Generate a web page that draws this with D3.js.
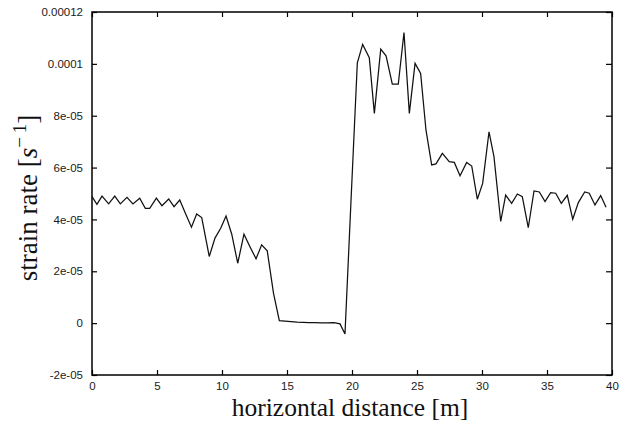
<!DOCTYPE html>
<html><head><meta charset="utf-8">
<script src="https://cdn.jsdelivr.net/npm/d3@7"></script>
<style>body{margin:0;background:#fff} svg{display:block}</style>
</head><body><svg id="c" width="629" height="421"></svg>
<script>
// horizontal distance [m]
const distance = [0,0.38,0.77,1.28,1.75,2.18,2.69,3.15,3.67,4.10,4.44,4.95,5.38,5.90,6.31,6.75,7.20,7.65,8.05,8.44,
 9.02,9.46,9.90,10.31,10.75,11.21,11.69,12.15,12.62,13.05,13.48,13.96,14.41,14.85,15.31,15.77,16.23,16.69,17.15,17.62,
 18.08,18.62,19.08,19.46,19.92,20.41,20.82,21.33,21.72,22.21,22.62,23.10,23.56,24.00,24.41,24.85,25.28,25.69,26.13,26.46,
 26.95,27.48,27.87,28.31,28.82,29.21,29.64,30.05,30.54,30.92,31.44,31.82,32.28,32.72,33.10,33.56,34.00,34.41,34.85,35.28,
 35.67,36.10,36.56,36.98,37.41,37.90,38.25,38.69,39.13,39.54];
// strain rate [1/s]
const strainRate = [4.88e-5,4.58e-5,4.90e-5,4.60e-5,4.90e-5,4.60e-5,4.85e-5,4.60e-5,4.82e-5,4.43e-5,4.43e-5,4.82e-5,4.53e-5,4.79e-5,4.49e-5,4.75e-5,4.22e-5,3.70e-5,4.21e-5,4.07e-5,
 2.57e-5,3.28e-5,3.66e-5,4.13e-5,3.43e-5,2.31e-5,3.43e-5,2.95e-5,2.48e-5,3.02e-5,2.79e-5,1.16e-5,0.10e-5,0.08e-5,0.06e-5,0.04e-5,0.03e-5,0.02e-5,0.02e-5,0.01e-5,
 0.01e-5,0.02e-5,-0.03e-5,-0.42e-5,4.68e-5,10.04e-5,10.75e-5,10.24e-5,8.09e-5,10.57e-5,10.31e-5,9.22e-5,9.22e-5,11.21e-5,8.09e-5,10.02e-5,9.63e-5,7.45e-5,6.10e-5,6.14e-5,
 6.55e-5,6.23e-5,6.20e-5,5.68e-5,6.20e-5,6.06e-5,4.78e-5,5.39e-5,7.38e-5,6.42e-5,3.92e-5,4.94e-5,4.62e-5,4.98e-5,4.88e-5,3.68e-5,5.10e-5,5.06e-5,4.69e-5,5.03e-5,
 5.01e-5,4.62e-5,4.93e-5,4.01e-5,4.65e-5,5.06e-5,5.01e-5,4.56e-5,4.92e-5,4.47e-5];
const xTicks = [0,5,10,15,20,25,30,35,40];
const xTickLabels = ["0","5","10","15","20","25","30","35","40"];
const yTicks = [-2e-5,0,2e-5,4e-5,6e-5,8e-5,1e-4,1.2e-4];
const yTickLabels = ["-2e-05","0","2e-05","4e-05","6e-05","8e-05","0.0001","0.00012"];

const svg = d3.select("#c");
const L = 92, R = 612, T = 12, B = 375;
const x = d3.scaleLinear().domain([0,40]).range([L,R]);
const y = d3.scaleLinear().domain([-2e-5,1.2e-4]).range([B,T]);
const tickFont = "'Liberation Sans', Arial, Helvetica, sans-serif";

function styleAxis(g){
  g.select(".domain").remove();
  g.selectAll(".tick line").attr("stroke","#000").attr("stroke-width",1.2);
  g.selectAll(".tick text").attr("fill","#1a1a1a").style("font-family",tickFont).style("font-size","11.5px");
}
svg.append("g").attr("transform",`translate(0,${B})`)
  .call(d3.axisBottom(x).tickValues(xTicks).tickFormat((d,i)=>xTickLabels[i]).tickSizeInner(-5).tickSizeOuter(0).tickPadding(7))
  .call(styleAxis);
svg.append("g").attr("transform",`translate(0,${T})`)
  .call(d3.axisTop(x).tickValues(xTicks).tickFormat("").tickSizeInner(-5).tickSizeOuter(0))
  .call(styleAxis);
svg.append("g").attr("transform",`translate(${L},0)`)
  .call(d3.axisLeft(y).tickValues(yTicks).tickFormat((d,i)=>yTickLabels[i]).tickSizeInner(-5).tickSizeOuter(0).tickPadding(9))
  .call(styleAxis);
svg.append("g").attr("transform",`translate(${R},0)`)
  .call(d3.axisRight(y).tickValues(yTicks).tickFormat("").tickSizeInner(-6).tickSizeOuter(0))
  .call(styleAxis);

svg.append("rect").attr("x",L).attr("y",T).attr("width",R-L).attr("height",B-T)
  .attr("fill","none").attr("stroke","#000").attr("stroke-width",1.5);

const pts = distance.map((d,i)=>[d,strainRate[i]]);
svg.append("path").datum(pts)
  .attr("d", d3.line().x(d=>x(d[0])).y(d=>y(d[1])))
  .attr("fill","none").attr("stroke","#111").attr("stroke-width",1.25).attr("stroke-linejoin","miter");

const serif = "'Liberation Serif', 'Times New Roman', Times, serif";
svg.append("text").attr("x",350).attr("y",416).attr("text-anchor","middle")
  .style("font-family",serif).style("font-size","25.5px").attr("fill","#111")
  .text("horizontal distance [m]");

const yt = svg.append("text").attr("transform","translate(37,198) rotate(-90)").attr("text-anchor","middle")
  .style("font-family",serif).style("font-size","27px").attr("fill","#111");
yt.append("tspan").text("strain rate [");
yt.append("tspan").style("font-style","italic").text("s");
yt.append("tspan").attr("dy",-11).style("font-size","19px").text("\u2212\u20091");
yt.append("tspan").attr("dy",11).text("]");
</script></body></html>
